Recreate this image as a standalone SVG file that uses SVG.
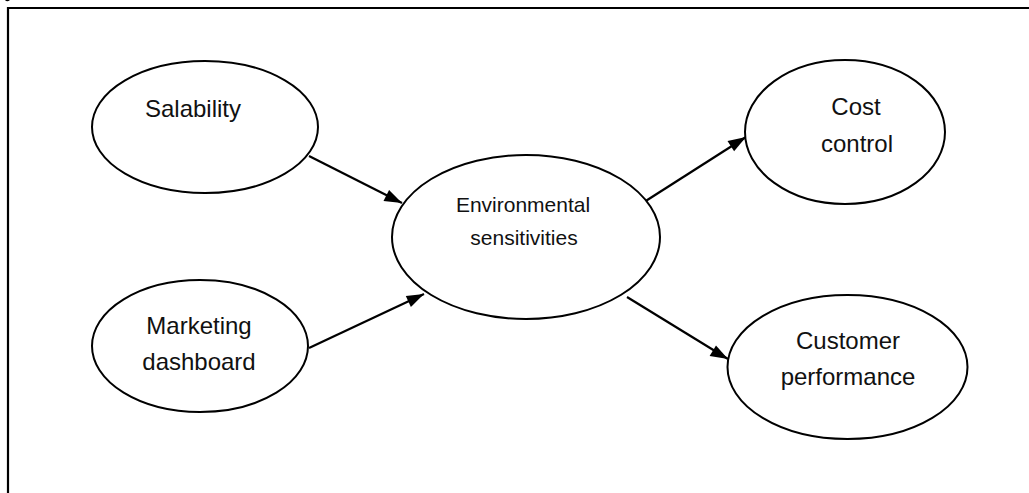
<svg xmlns="http://www.w3.org/2000/svg" width="1029" height="493" viewBox="0 0 1029 493">
<style>
.node ellipse{fill:#fff;stroke:#000;stroke-width:2}
.node text{font-family:"Liberation Sans",Arial,sans-serif;font-size:24px;fill:#111;text-anchor:middle}
.node text.sm{font-size:21px}
.conn line{stroke:#000;stroke-width:2.2;marker-end:url(#ah)}
</style>
<defs>
<marker id="ah" viewBox="0 0 10 10" refX="10" refY="5" markerWidth="8.5" markerHeight="6.5" markerUnits="userSpaceOnUse" orient="auto" overflow="visible">
<path d="M0,0 L10,5 L0,10 Z" fill="#000"/>
</marker>
</defs>
<rect width="1029" height="493" fill="#fff"/>
<path d="M8,494 V8 H1030" fill="none" stroke="#000" stroke-width="2.2"/>
<path d="M5,0 Q7,2.5 10,0 Z" fill="#000"/>
<g class="conn">
<line x1="309" y1="156" x2="402" y2="203" style="marker-end:none"/>
<line x1="309" y1="348" x2="424" y2="294" style="marker-end:none"/>
<line x1="641" y1="204" x2="746" y2="137" style="marker-end:none"/>
<line x1="627" y1="297" x2="728" y2="359" style="marker-end:none"/>
<path d="M402,203 L383.5,200.9 L389.1,189.9 Z"/>
<path d="M424,294 L410.9,307.1 L405.8,295.9 Z"/>
<path d="M746,137 L734.1,151.3 L727.5,141.0 Z"/>
<path d="M728,359 L709.6,356.0 L716.0,345.6 Z"/>
</g>
<g id="salability" class="node">
<ellipse cx="205" cy="127" rx="113" ry="66"/>
<text x="193" y="117">Salability</text>
</g>
<g id="marketing" class="node">
<ellipse cx="200" cy="346" rx="108" ry="66"/>
<text x="199" y="334">Marketing</text>
<text x="199" y="370">dashboard</text>
</g>
<g id="environmental" class="node">
<ellipse cx="526" cy="237" rx="134" ry="82"/>
<text class="sm" x="523" y="212">Environmental</text>
<text class="sm" x="524" y="245">sensitivities</text>
</g>
<g id="cost" class="node">
<ellipse cx="845" cy="132" rx="100" ry="72"/>
<text x="856" y="115">Cost</text>
<text x="857" y="152">control</text>
</g>
<g id="customer" class="node">
<ellipse cx="847.5" cy="367" rx="120" ry="72"/>
<text x="848" y="349">Customer</text>
<text x="848" y="385">performance</text>
</g>
</svg>
